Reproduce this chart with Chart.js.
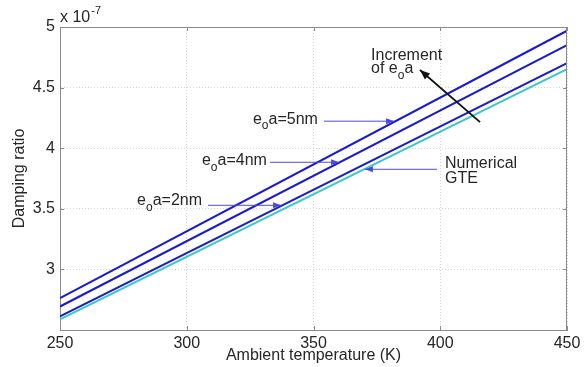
<!DOCTYPE html>
<html>
<head>
<meta charset="utf-8">
<script src="https://cdn.jsdelivr.net/npm/chart.js@4"></script>
<style>
  html, body { margin: 0; padding: 0; background: #fff; }
  #wrap { width: 588px; height: 367px; position: relative; }
</style>
</head>
<body>
<div id="wrap"><canvas id="dampChart"></canvas></div>
<script>
// ambient temperature (K), endpoints of each straight line
const temps = [250, 450];
// damping ratio, in units of 1e-7
const damp5nm = [2.763, 4.969];
const damp4nm = [2.694, 4.851];
const damp2nm = [2.612, 4.702];
const dampGTE = [2.587, 4.653];
const xTicks = [250, 300, 350, 400, 450];
const yTicks = [2.5, 3, 3.5, 4, 4.5, 5];

const FONT = "'Liberation Sans', Arial, sans-serif";
const FS = 16;
const BLUE = '#1a1ad0';
const CYAN = '#3cc8c8';
const ARROW_BLUE = '#4a4ad8';
const TXT = '#262626';

function toPoints(ys) {
  return temps.map((t, i) => ({ x: t, y: ys[i] }));
}

// annotation text and arrows, placed in data coordinates
const subLabels = [
  { pre: 'e', sub: 'o', post: 'a=5nm', x: 326.1, y: 4.240, ax0: 354.1, ax1: 381.8, ay: 4.223 },
  { pre: 'e', sub: 'o', post: 'a=4nm', x: 306.0, y: 3.901, ax0: 332.8, ax1: 360.1, ay: 3.884 },
  { pre: 'e', sub: 'o', post: 'a=2nm', x: 280.4, y: 3.570, ax0: 308.4, ax1: 337.2, ay: 3.529 }
];

function arrowHead(ctx, x0, y0, x1, y1, len, half, color) {
  const a = Math.atan2(y1 - y0, x1 - x0);
  ctx.fillStyle = color;
  ctx.beginPath();
  ctx.moveTo(x1, y1);
  ctx.lineTo(x1 - len * Math.cos(a) + half * Math.sin(a), y1 - len * Math.sin(a) - half * Math.cos(a));
  ctx.lineTo(x1 - len * Math.cos(a) - half * Math.sin(a), y1 - len * Math.sin(a) + half * Math.cos(a));
  ctx.closePath();
  ctx.fill();
}

function drawArrow(ctx, x0, y0, x1, y1, color, width, len, half) {
  ctx.strokeStyle = color;
  ctx.lineWidth = width;
  ctx.beginPath();
  ctx.moveTo(x0, y0);
  ctx.lineTo(x1, y1);
  ctx.stroke();
  arrowHead(ctx, x0, y0, x1, y1, len, half, color);
}

// text like e_o a=5nm with a lowered "o"
function drawSubText(ctx, x, y, pre, sub, post) {
  ctx.textBaseline = 'middle';
  ctx.textAlign = 'left';
  ctx.fillStyle = TXT;
  ctx.font = FS + 'px ' + FONT;
  ctx.fillText(pre, x, y);
  let cx = x + ctx.measureText(pre).width;
  ctx.font = '12px ' + FONT;
  ctx.fillText(sub, cx, y + 7);
  cx += ctx.measureText(sub).width;
  ctx.font = FS + 'px ' + FONT;
  ctx.fillText(post, cx, y);
}

const extras = {
  id: 'extras',
  afterDraw(chart) {
    const { ctx, chartArea: ca, scales: { x, y } } = chart;
    ctx.save();

    // box: top and right border plus inner tick marks
    ctx.strokeStyle = '#8a8a8a';
    ctx.lineWidth = 1;
    ctx.beginPath();
    ctx.moveTo(ca.left, ca.top + 0.5);
    ctx.lineTo(ca.right, ca.top + 0.5);
    ctx.moveTo(ca.right - 0.5, ca.top);
    ctx.lineTo(ca.right - 0.5, ca.bottom);
    xTicks.forEach(t => {
      const px = Math.round(x.getPixelForValue(t)) + 0.5;
      ctx.moveTo(px, ca.bottom); ctx.lineTo(px, ca.bottom - 4);
      ctx.moveTo(px, ca.top); ctx.lineTo(px, ca.top + 4);
    });
    yTicks.forEach(t => {
      const py = Math.round(y.getPixelForValue(t)) + 0.5;
      ctx.moveTo(ca.left, py); ctx.lineTo(ca.left + 4, py);
      ctx.moveTo(ca.right, py); ctx.lineTo(ca.right - 4, py);
    });
    ctx.stroke();

    // exponent above the y axis
    ctx.fillStyle = TXT;
    ctx.textBaseline = 'middle';
    ctx.textAlign = 'left';
    ctx.font = FS + 'px ' + FONT;
    ctx.fillText('x 10', ca.left, ca.top - 9);
    const w = ctx.measureText('x 10').width;
    ctx.font = '11px ' + FONT;
    ctx.fillText('-7', ca.left + w + 1, ca.top - 16);

    // e_o a labels with thin blue arrows
    subLabels.forEach(l => {
      drawSubText(ctx, x.getPixelForValue(l.x), y.getPixelForValue(l.y), l.pre, l.sub, l.post);
      const ay = y.getPixelForValue(l.ay);
      drawArrow(ctx, x.getPixelForValue(l.ax0), ay, x.getPixelForValue(l.ax1), ay, ARROW_BLUE, 1, 8, 3);
    });

    // Numerical GTE
    ctx.fillStyle = TXT;
    ctx.font = FS + 'px ' + FONT;
    ctx.textAlign = 'left';
    ctx.textBaseline = 'middle';
    ctx.fillText('Numerical', x.getPixelForValue(401.9), y.getPixelForValue(3.876));
    ctx.fillText('GTE', x.getPixelForValue(401.9), y.getPixelForValue(3.752));
    const gy = y.getPixelForValue(3.826);
    drawArrow(ctx, x.getPixelForValue(398.7), gy, x.getPixelForValue(370.3), gy, ARROW_BLUE, 1, 8, 3);

    // Increment of e_o a
    ctx.fillStyle = TXT;
    ctx.font = FS + 'px ' + FONT;
    ctx.fillText('Increment', x.getPixelForValue(372.7), y.getPixelForValue(4.760));
    drawSubText(ctx, x.getPixelForValue(372.7), y.getPixelForValue(4.653), 'of e', 'o', 'a');
    drawArrow(ctx, x.getPixelForValue(415.7), y.getPixelForValue(4.215),
      x.getPixelForValue(392.0), y.getPixelForValue(4.645), '#111', 1.8, 10, 4);

    ctx.restore();
  }
};

const lineDs = (label, ys, color, width) => ({
  label,
  data: toPoints(ys),
  borderColor: color,
  backgroundColor: color,
  borderWidth: width,
  pointRadius: 0,
  fill: false,
  tension: 0
});

new Chart(document.getElementById('dampChart'), {
  type: 'line',
  data: {
    datasets: [
      lineDs('Numerical GTE', dampGTE, CYAN, 2),
      lineDs('e0a=2nm', damp2nm, BLUE, 2),
      lineDs('e0a=4nm', damp4nm, BLUE, 2),
      lineDs('e0a=5nm', damp5nm, BLUE, 2)
    ]
  },
  options: {
    responsive: true,
    maintainAspectRatio: false,
    animation: false,
    layout: { padding: { top: 27, right: 21, left: 0, bottom: 0 } },
    plugins: { legend: { display: false }, tooltip: { enabled: false } },
    scales: {
      x: {
        type: 'linear',
        min: 250,
        max: 450,
        afterFit: s => { s.height = 37; },
        afterBuildTicks: s => { s.ticks = xTicks.map(v => ({ value: v })); },
        grid: { color: '#d6d6d6', drawTicks: false, tickLength: 0 },
        border: { color: '#8a8a8a', dash: [1, 2] },
        ticks: { color: TXT, font: { family: FONT, size: FS }, padding: 4, maxRotation: 0 },
        title: { display: true, text: 'Ambient temperature (K)', color: TXT, font: { family: FONT, size: FS }, padding: { top: 0, bottom: 2 } }
      },
      y: {
        min: 2.5,
        max: 5,
        afterFit: s => { s.width = 60; },
        afterBuildTicks: s => { s.ticks = yTicks.map(v => ({ value: v })); },
        grid: { color: '#d6d6d6', drawTicks: false, tickLength: 0 },
        border: { color: '#8a8a8a', dash: [1, 2] },
        ticks: {
          color: TXT,
          font: { family: FONT, size: FS },
          padding: 5,
          callback: v => (v === 2.5 ? '' : String(v))
        },
        title: { display: true, text: 'Damping ratio', color: TXT, font: { family: FONT, size: FS }, padding: { top: 10, bottom: 0 } }
      }
    }
  },
  plugins: [extras]
});
</script>
</body>
</html>
